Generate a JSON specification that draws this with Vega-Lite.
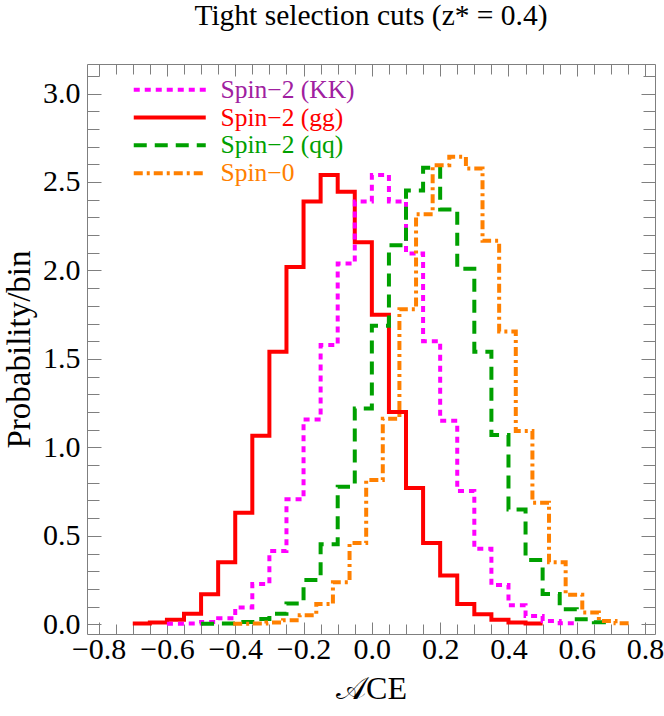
{
  "$schema": "https://vega.github.io/schema/vega-lite/v6.json",
  "width": 568,
  "height": 570,
  "autosize": {"type": "none"},
  "padding": {"left": 87, "top": 64, "right": 9, "bottom": 82},
  "background": "white",
  "title": {"text": "Tight selection cuts  (z* = 0.4)", "font": "Liberation Serif", "fontSize": 29.5, "fontWeight": "normal", "color": "black", "anchor": "middle", "offset": 29},
  "config": {
    "view": {"stroke": "#7f7f7f", "strokeWidth": 1},
    "axis": {"domain": false, "grid": false, "labelFont": "Liberation Serif", "labelFontSize": 30, "labelColor": "black", "tickColor": "#7f7f7f", "tickWidth": 1, "titleFont": "Liberation Serif", "titleFontWeight": "normal", "titleColor": "black", "labelOverlap": false, "labelFlush": false, "labelBound": false}
  },
  "data": {"values": [
    {"s": "Spin−2 (gg)", "x": -0.70, "p": 0.004},
    {"s": "Spin−2 (gg)", "x": -0.65, "p": 0.010},
    {"s": "Spin−2 (gg)", "x": -0.60, "p": 0.025},
    {"s": "Spin−2 (gg)", "x": -0.55, "p": 0.060},
    {"s": "Spin−2 (gg)", "x": -0.50, "p": 0.170},
    {"s": "Spin−2 (gg)", "x": -0.45, "p": 0.350},
    {"s": "Spin−2 (gg)", "x": -0.40, "p": 0.630},
    {"s": "Spin−2 (gg)", "x": -0.35, "p": 1.066},
    {"s": "Spin−2 (gg)", "x": -0.30, "p": 1.540},
    {"s": "Spin−2 (gg)", "x": -0.25, "p": 2.020},
    {"s": "Spin−2 (gg)", "x": -0.20, "p": 2.390},
    {"s": "Spin−2 (gg)", "x": -0.15, "p": 2.540},
    {"s": "Spin−2 (gg)", "x": -0.10, "p": 2.445},
    {"s": "Spin−2 (gg)", "x": -0.05, "p": 2.160},
    {"s": "Spin−2 (gg)", "x": 0.00, "p": 1.750},
    {"s": "Spin−2 (gg)", "x": 0.05, "p": 1.200},
    {"s": "Spin−2 (gg)", "x": 0.10, "p": 0.770},
    {"s": "Spin−2 (gg)", "x": 0.15, "p": 0.460},
    {"s": "Spin−2 (gg)", "x": 0.20, "p": 0.275},
    {"s": "Spin−2 (gg)", "x": 0.25, "p": 0.115},
    {"s": "Spin−2 (gg)", "x": 0.30, "p": 0.057},
    {"s": "Spin−2 (gg)", "x": 0.35, "p": 0.025},
    {"s": "Spin−2 (gg)", "x": 0.40, "p": 0.010},
    {"s": "Spin−2 (gg)", "x": 0.45, "p": 0.004},
    {"s": "Spin−2 (gg)", "x": 0.50, "p": 0.004},
    {"s": "Spin−2 (KK)", "x": -0.60, "p": 0.003},
    {"s": "Spin−2 (KK)", "x": -0.55, "p": 0.004},
    {"s": "Spin−2 (KK)", "x": -0.50, "p": 0.013},
    {"s": "Spin−2 (KK)", "x": -0.45, "p": 0.034},
    {"s": "Spin−2 (KK)", "x": -0.40, "p": 0.095},
    {"s": "Spin−2 (KK)", "x": -0.35, "p": 0.228},
    {"s": "Spin−2 (KK)", "x": -0.30, "p": 0.414},
    {"s": "Spin−2 (KK)", "x": -0.25, "p": 0.706},
    {"s": "Spin−2 (KK)", "x": -0.20, "p": 1.158},
    {"s": "Spin−2 (KK)", "x": -0.15, "p": 1.578},
    {"s": "Spin−2 (KK)", "x": -0.10, "p": 2.040},
    {"s": "Spin−2 (KK)", "x": -0.05, "p": 2.390},
    {"s": "Spin−2 (KK)", "x": 0.00, "p": 2.540},
    {"s": "Spin−2 (KK)", "x": 0.05, "p": 2.390},
    {"s": "Spin−2 (KK)", "x": 0.10, "p": 2.096},
    {"s": "Spin−2 (KK)", "x": 0.15, "p": 1.600},
    {"s": "Spin−2 (KK)", "x": 0.20, "p": 1.150},
    {"s": "Spin−2 (KK)", "x": 0.25, "p": 0.753},
    {"s": "Spin−2 (KK)", "x": 0.30, "p": 0.427},
    {"s": "Spin−2 (KK)", "x": 0.35, "p": 0.222},
    {"s": "Spin−2 (KK)", "x": 0.40, "p": 0.108},
    {"s": "Spin−2 (KK)", "x": 0.45, "p": 0.047},
    {"s": "Spin−2 (KK)", "x": 0.50, "p": 0.018},
    {"s": "Spin−2 (KK)", "x": 0.55, "p": 0.006},
    {"s": "Spin−2 (KK)", "x": 0.60, "p": 0.006},
    {"s": "Spin−2 (qq)", "x": -0.50, "p": 0.003},
    {"s": "Spin−2 (qq)", "x": -0.45, "p": 0.004},
    {"s": "Spin−2 (qq)", "x": -0.40, "p": 0.013},
    {"s": "Spin−2 (qq)", "x": -0.35, "p": 0.030},
    {"s": "Spin−2 (qq)", "x": -0.30, "p": 0.060},
    {"s": "Spin−2 (qq)", "x": -0.25, "p": 0.118},
    {"s": "Spin−2 (qq)", "x": -0.20, "p": 0.250},
    {"s": "Spin−2 (qq)", "x": -0.15, "p": 0.452},
    {"s": "Spin−2 (qq)", "x": -0.10, "p": 0.778},
    {"s": "Spin−2 (qq)", "x": -0.05, "p": 1.220},
    {"s": "Spin−2 (qq)", "x": 0.00, "p": 1.688},
    {"s": "Spin−2 (qq)", "x": 0.05, "p": 2.143},
    {"s": "Spin−2 (qq)", "x": 0.10, "p": 2.452},
    {"s": "Spin−2 (qq)", "x": 0.15, "p": 2.580},
    {"s": "Spin−2 (qq)", "x": 0.20, "p": 2.344},
    {"s": "Spin−2 (qq)", "x": 0.25, "p": 2.010},
    {"s": "Spin−2 (qq)", "x": 0.30, "p": 1.541},
    {"s": "Spin−2 (qq)", "x": 0.35, "p": 1.070},
    {"s": "Spin−2 (qq)", "x": 0.40, "p": 0.649},
    {"s": "Spin−2 (qq)", "x": 0.45, "p": 0.364},
    {"s": "Spin−2 (qq)", "x": 0.50, "p": 0.171},
    {"s": "Spin−2 (qq)", "x": 0.55, "p": 0.085},
    {"s": "Spin−2 (qq)", "x": 0.60, "p": 0.028},
    {"s": "Spin−2 (qq)", "x": 0.65, "p": 0.012},
    {"s": "Spin−2 (qq)", "x": 0.70, "p": 0.012},
    {"s": "Spin−0", "x": -0.4060, "p": 0.003},
    {"s": "Spin−0", "x": -0.3573, "p": 0.005},
    {"s": "Spin−0", "x": -0.3087, "p": 0.0095},
    {"s": "Spin−0", "x": -0.2600, "p": 0.023},
    {"s": "Spin−0", "x": -0.2113, "p": 0.051},
    {"s": "Spin−0", "x": -0.1627, "p": 0.114},
    {"s": "Spin−0", "x": -0.1140, "p": 0.237},
    {"s": "Spin−0", "x": -0.0653, "p": 0.459},
    {"s": "Spin−0", "x": -0.0166, "p": 0.816},
    {"s": "Spin−0", "x": 0.0320, "p": 1.162},
    {"s": "Spin−0", "x": 0.0807, "p": 1.780},
    {"s": "Spin−0", "x": 0.1294, "p": 2.318},
    {"s": "Spin−0", "x": 0.1780, "p": 2.595},
    {"s": "Spin−0", "x": 0.2267, "p": 2.643},
    {"s": "Spin−0", "x": 0.2754, "p": 2.576},
    {"s": "Spin−0", "x": 0.3240, "p": 2.168},
    {"s": "Spin−0", "x": 0.3727, "p": 1.655},
    {"s": "Spin−0", "x": 0.4214, "p": 1.092},
    {"s": "Spin−0", "x": 0.4701, "p": 0.687},
    {"s": "Spin−0", "x": 0.5187, "p": 0.351},
    {"s": "Spin−0", "x": 0.5674, "p": 0.167},
    {"s": "Spin−0", "x": 0.6161, "p": 0.066},
    {"s": "Spin−0", "x": 0.6647, "p": 0.019},
    {"s": "Spin−0", "x": 0.7134, "p": 0.006},
    {"s": "Spin−0", "x": 0.7621, "p": 0.006}
  ]},
  "layer": [
    {
      "mark": {"type": "line", "interpolate": "step-after", "strokeWidth": 4, "clip": true},
      "encoding": {
        "x": {"field": "x", "type": "quantitative",
          "scale": {"domain": [-0.834, 0.829], "nice": false, "zero": false},
          "axis": {"orient": "bottom", "title": "𝒜CE", "titleFontSize": 32, "titlePadding": 7,
            "values": [-0.8,-0.75,-0.7,-0.65,-0.6,-0.55,-0.5,-0.45,-0.4,-0.35,-0.3,-0.25,-0.2,-0.15,-0.1,-0.05,0,0.05,0.1,0.15,0.2,0.25,0.3,0.35,0.4,0.45,0.5,0.55,0.6,0.65,0.7,0.75,0.8],
            "format": ".1f",
            "labelExpr": "abs(round(datum.value*100)) % 20 == 0 ? datum.label : ''",
            "tickSize": {"condition": {"test": "abs(round(datum.value*100)) % 20 == 0", "value": -12}, "value": -10},
            "labelPadding": 12}},
        "y": {"field": "p", "type": "quantitative",
          "scale": {"domain": [-0.055, 3.167], "nice": false, "zero": false},
          "axis": {"orient": "left", "title": "Probability/bin", "titleFontSize": 33, "titlePadding": 6,
            "values": [0,0.1,0.2,0.3,0.4,0.5,0.6,0.7,0.8,0.9,1,1.1,1.2,1.3,1.4,1.5,1.6,1.7,1.8,1.9,2,2.1,2.2,2.3,2.4,2.5,2.6,2.7,2.8,2.9,3,3.1],
            "format": ".1f",
            "labelExpr": "round(datum.value*10) % 5 == 0 ? datum.label : ''",
            "tickSize": {"condition": {"test": "round(datum.value*10) % 5 == 0", "value": -14}, "value": -12},
            "labelPadding": 21}},
        "color": {"field": "s", "type": "nominal",
          "scale": {"domain": ["Spin−2 (KK)", "Spin−2 (gg)", "Spin−2 (qq)", "Spin−0"], "range": ["#FF00FF", "#FF0000", "#00A000", "#FF8000"]},
          "legend": {"orient": "none", "legendX": 70, "legendY": 13, "title": null,
            "symbolType": "M-3.6,0H3.6", "symbolSize": 400, "symbolStrokeWidth": 4,
            "labelFont": "Liberation Serif", "labelFontSize": 25.5, "labelOffset": 38, "rowPadding": 0.8,
            "labelColor": {"expr": "datum.label == 'Spin−2 (KK)' ? '#A020A0' : datum.label == 'Spin−2 (gg)' ? '#FF0000' : datum.label == 'Spin−2 (qq)' ? '#00A000' : '#FF8000'"}}},
        "strokeDash": {"field": "s", "type": "nominal",
          "scale": {"domain": ["Spin−2 (KK)", "Spin−2 (gg)", "Spin−2 (qq)", "Spin−0"], "range": [[6,5],[1,0],[13,8],[9,4,3,4]]},
          "legend": {"orient": "none", "legendX": 70, "legendY": 13, "title": null,
            "symbolType": "M-3.6,0H3.6", "symbolSize": 400, "symbolStrokeWidth": 4,
            "labelFont": "Liberation Serif", "labelFontSize": 25.5, "labelOffset": 38, "rowPadding": 0.8,
            "labelColor": {"expr": "datum.label == 'Spin−2 (KK)' ? '#A020A0' : datum.label == 'Spin−2 (gg)' ? '#FF0000' : datum.label == 'Spin−2 (qq)' ? '#00A000' : '#FF8000'"}}}
      }
    },
    {
      "mark": {"type": "point", "opacity": 0},
      "encoding": {
        "x": {"field": "x", "type": "quantitative",
          "axis": {"orient": "top", "title": null, "labels": false,
            "values": [-0.8,-0.75,-0.7,-0.65,-0.6,-0.55,-0.5,-0.45,-0.4,-0.35,-0.3,-0.25,-0.2,-0.15,-0.1,-0.05,0,0.05,0.1,0.15,0.2,0.25,0.3,0.35,0.4,0.45,0.5,0.55,0.6,0.65,0.7,0.75,0.8],
            "tickSize": {"condition": {"test": "abs(round(datum.value*100)) % 20 == 0", "value": -12}, "value": -10}}},
        "y": {"field": "p", "type": "quantitative",
          "axis": {"orient": "right", "title": null, "labels": false,
            "values": [0,0.1,0.2,0.3,0.4,0.5,0.6,0.7,0.8,0.9,1,1.1,1.2,1.3,1.4,1.5,1.6,1.7,1.8,1.9,2,2.1,2.2,2.3,2.4,2.5,2.6,2.7,2.8,2.9,3,3.1],
            "tickSize": {"condition": {"test": "round(datum.value*10) % 5 == 0", "value": -14}, "value": -12}}}
      }
    }
  ],
  "resolve": {"axis": {"x": "independent", "y": "independent"}}
}
